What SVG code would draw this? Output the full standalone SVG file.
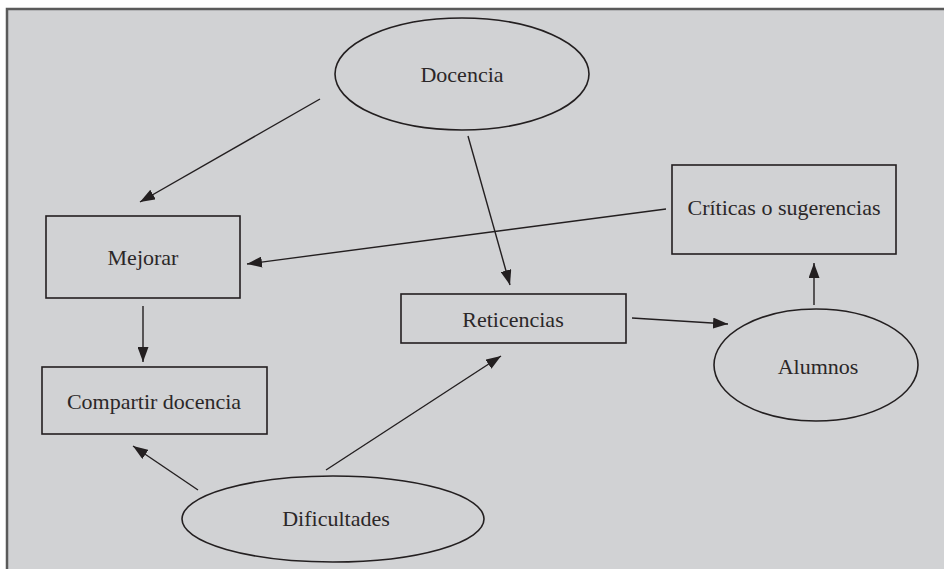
<svg xmlns="http://www.w3.org/2000/svg" width="944" height="569" viewBox="0 0 944 569">
<defs>
<marker id="ah" viewBox="0 0 15 11" refX="15" refY="5.5" markerWidth="15" markerHeight="11" markerUnits="userSpaceOnUse" orient="auto">
<path d="M0,0 L15,5.5 L0,11 z" fill="#231f20"/>
</marker>
</defs>
<style>
.bg{fill:#d1d2d4}
.frame{fill:none;stroke:#5a5a5a;stroke-width:2.5}
.shape{fill:none;stroke:#231f20;stroke-width:1.6}
.lbl{font-family:"Liberation Serif","DejaVu Serif",serif;font-size:22px;fill:#2b2728;text-anchor:middle}
.conn{fill:none;stroke:#231f20;stroke-width:1.4;marker-end:url(#ah)}
</style>
<rect x="0" y="0" width="944" height="569" fill="#ffffff"/>
<rect class="bg" x="7" y="9" width="937" height="560"/>
<path class="frame" d="M7,569 V9 H944"/>
<g id="docencia">
<ellipse class="shape" cx="462" cy="74" rx="127" ry="56"/>
<text class="lbl" x="462" y="82">Docencia</text>
</g>
<g id="mejorar">
<rect class="shape" x="46" y="216" width="194" height="82"/>
<text class="lbl" x="143" y="265">Mejorar</text>
</g>
<g id="compartir">
<rect class="shape" x="42" y="367" width="225" height="67"/>
<text class="lbl" x="154" y="409">Compartir docencia</text>
</g>
<g id="dificultades">
<ellipse class="shape" cx="333" cy="519" rx="151" ry="43"/>
<text class="lbl" x="336" y="526">Dificultades</text>
</g>
<g id="reticencias">
<rect class="shape" x="401" y="294" width="225" height="49"/>
<text class="lbl" x="513" y="327">Reticencias</text>
</g>
<g id="criticas">
<rect class="shape" x="672" y="165" width="224" height="89"/>
<text class="lbl" x="784" y="215">Críticas o sugerencias</text>
</g>
<g id="alumnos">
<ellipse class="shape" cx="816" cy="365" rx="102" ry="56"/>
<text class="lbl" x="818" y="374">Alumnos</text>
</g>
<g id="connectors">
<line class="conn" x1="320" y1="99" x2="140" y2="202"/>
<line class="conn" x1="468" y1="136" x2="510" y2="285"/>
<line class="conn" x1="666" y1="209" x2="247" y2="264"/>
<line class="conn" x1="143" y1="306" x2="143" y2="362"/>
<line class="conn" x1="198" y1="490" x2="133" y2="446"/>
<line class="conn" x1="326" y1="470" x2="501" y2="356"/>
<line class="conn" x1="632" y1="318" x2="728" y2="324"/>
<line class="conn" x1="814" y1="305" x2="814" y2="263"/>
</g>
</svg>
